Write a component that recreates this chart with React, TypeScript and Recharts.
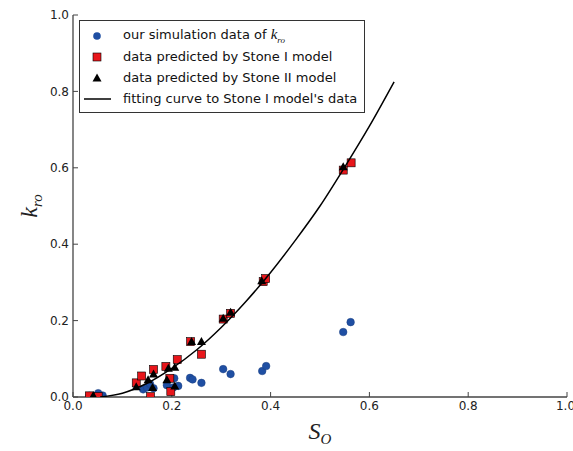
import React from 'react';
import { ScatterChart, Scatter, XAxis, YAxis, Legend, Label } from 'recharts';

// our simulation data of k_ro
const simX = [0.033, 0.051, 0.06, 0.142, 0.15, 0.156, 0.163, 0.19, 0.203, 0.205, 0.213, 0.237, 0.242, 0.26, 0.304, 0.319, 0.383, 0.391, 0.547, 0.562];
const simY = [0.003, 0.01, 0.004, 0.02, 0.025, 0.034, 0.023, 0.031, 0.025, 0.049, 0.029, 0.05, 0.046, 0.037, 0.073, 0.06, 0.068, 0.081, 0.17, 0.196];

// data predicted by Stone I model
const stone1X = [0.033, 0.051, 0.128, 0.139, 0.157, 0.163, 0.188, 0.196, 0.198, 0.211, 0.238, 0.26, 0.304, 0.319, 0.385, 0.39, 0.547, 0.563];
const stone1Y = [0.003, 0.001, 0.037, 0.055, 0.001, 0.072, 0.08, 0.049, 0.014, 0.098, 0.145, 0.112, 0.204, 0.219, 0.302, 0.31, 0.594, 0.613];

// data predicted by Stone II model
const stone2X = [0.041, 0.128, 0.152, 0.161, 0.163, 0.19, 0.193, 0.206, 0.206, 0.24, 0.26, 0.304, 0.319, 0.382, 0.547];
const stone2Y = [0.004, 0.027, 0.045, 0.025, 0.06, 0.045, 0.075, 0.078, 0.029, 0.145, 0.145, 0.206, 0.222, 0.304, 0.603];

// fitting curve to Stone I model's data
const fitX = [0.055, 0.1, 0.15, 0.2, 0.25, 0.3, 0.35, 0.4, 0.45, 0.5, 0.55, 0.6, 0.65];
const fitY = [0, 0.01, 0.036, 0.075, 0.123, 0.182, 0.25, 0.326, 0.41, 0.5, 0.602, 0.709, 0.825];

const ticks = [0, 0.2, 0.4, 0.6, 0.8, 1.0];

const zip = (xs: number[], ys: number[]) => xs.map((x, i) => ({ x, y: ys[i] }));

const simData = zip(simX, simY);
const stone1Data = zip(stone1X, stone1Y);
const stone2Data = zip(stone2X, stone2Y);
const fitData = zip(fitX, fitY);

const BLUE = '#1f4fa3';
const RED = '#e8161b';

const Circle = (p: any) => <circle cx={p.cx} cy={p.cy} r={3.8} fill={BLUE} stroke="#1a3f80" strokeWidth={0.5} />;
const Square = (p: any) => <rect x={p.cx - 4} y={p.cy - 4} width={8} height={8} fill={RED} stroke="#000" strokeWidth={0.6} />;
const Triangle = (p: any) => (
  <polygon points={`${p.cx},${p.cy - 4.5} ${p.cx - 4.5},${p.cy + 3.5} ${p.cx + 4.5},${p.cy + 3.5}`} fill="#000" />
);
const NoShape = () => null;

const tickStyle = { fontFamily: 'DejaVu Sans', fontSize: 12, fill: '#222' };
const fmt = (v: number) => v.toFixed(1);
const blank = () => '';
const axisColor = '#444';

const LegendBox = () => (
  <div
    style={{
      border: '1px solid #333',
      background: '#fff',
      fontFamily: 'DejaVu Sans',
      fontSize: 13,
      color: '#111',
      padding: '4px 0',
      boxSizing: 'border-box',
      width: 286,
      height: 93,
    }}
  >
    {[
      { m: <circle cx={13} cy={7} r={3.8} fill={BLUE} />, t: <>our simulation data of <i style={{ fontFamily: 'Liberation Serif', fontSize: 15 }}>k</i><sub style={{ fontFamily: 'Liberation Serif', fontStyle: 'italic', fontSize: 9 }}>ro</sub></> },
      { m: <rect x={9} y={3} width={8} height={8} fill={RED} stroke="#000" strokeWidth={0.6} />, t: 'data predicted by Stone I model' },
      { m: <polygon points="13,2.5 8.5,10.5 17.5,10.5" fill="#000" />, t: 'data predicted by Stone II model' },
      { m: <line x1={0} x2={27} y1={7} y2={7} stroke="#000" strokeWidth={1.5} />, t: "fitting curve to Stone I model's data" },
    ].map((r, i) => (
      <div key={i} style={{ display: 'flex', alignItems: 'center', height: 21 }}>
        <svg width={30} height={14} style={{ marginLeft: 4, marginRight: 9 }}>{r.m}</svg>
        <span style={{ whiteSpace: 'nowrap' }}>{r.t}</span>
      </div>
    ))}
  </div>
);

const YLabel = (props: any) => {
  const vb = props.viewBox;
  const cx = vb.x + 14;
  const cy = vb.y + vb.height / 2;
  return (
    <text x={cx} y={cy} transform={`rotate(-90, ${cx}, ${cy})`} textAnchor="middle" fontFamily="Liberation Serif" fontStyle="italic" fill="#222">
      <tspan fontSize={24}>k</tspan>
      <tspan fontSize={15} dy={5}>ro</tspan>
    </text>
  );
};

const XLabel = (props: any) => {
  const vb = props.viewBox;
  const cx = vb.x + vb.width / 2;
  const cy = vb.y + 42;
  return (
    <text x={cx} y={cy} textAnchor="middle" fontFamily="Liberation Serif" fontStyle="italic" fill="#222">
      <tspan fontSize={24}>S</tspan>
      <tspan fontSize={15} dy={5}>O</tspan>
    </text>
  );
};

export default function App() {
  return (
    <div style={{ position: 'absolute', left: 0, top: 0, width: 573, height: 451, background: '#fff' }}>
      <ScatterChart width={573} height={451} margin={{ top: 15, right: 6, bottom: 24, left: 23 }}>
        <XAxis
          type="number"
          dataKey="x"
          domain={[0, 1]}
          ticks={ticks}
          tickFormatter={fmt}
          tick={tickStyle}
          tickSize={-5}
          tickMargin={9}
          height={30}
          allowDataOverflow
          stroke={axisColor}
          axisLine={{ stroke: axisColor, strokeWidth: 1.3 }}
          tickLine={{ stroke: axisColor }}
        >
          <Label content={XLabel} />
        </XAxis>
        <XAxis
          xAxisId="top"
          type="number"
          dataKey="x"
          orientation="top"
          mirror
          domain={[0, 1]}
          ticks={ticks}
          tickFormatter={blank}
          tickSize={5}
          height={0}
          axisLine={{ stroke: axisColor, strokeWidth: 1.3 }}
          tickLine={{ stroke: axisColor }}
        />
        <YAxis
          type="number"
          dataKey="y"
          domain={[0, 1]}
          ticks={ticks}
          tickFormatter={fmt}
          tick={tickStyle}
          tickSize={-5}
          tickMargin={9}
          width={50}
          allowDataOverflow
          axisLine={{ stroke: axisColor, strokeWidth: 1.3 }}
          tickLine={{ stroke: axisColor }}
        >
          <Label content={YLabel} />
        </YAxis>
        <YAxis
          yAxisId="right"
          type="number"
          dataKey="y"
          orientation="right"
          mirror
          domain={[0, 1]}
          ticks={ticks}
          tickFormatter={blank}
          tickSize={5}
          width={0}
          axisLine={{ stroke: axisColor, strokeWidth: 1.3 }}
          tickLine={{ stroke: axisColor }}
        />
        <Legend
          layout="vertical"
          align="center"
          verticalAlign="middle"
          content={LegendBox}
          wrapperStyle={{ left: 79, top: 20, width: 286, height: 93 }}
        />
        <Scatter data={simData} shape={Circle} isAnimationActive={false} />
        <Scatter data={stone1Data} shape={Square} isAnimationActive={false} />
        <Scatter data={stone2Data} shape={Triangle} isAnimationActive={false} />
        <Scatter
          data={fitData}
          shape={NoShape}
          line={{ stroke: '#000', strokeWidth: 1.5 }}
          lineJointType="monotoneX"
          isAnimationActive={false}
        />
      </ScatterChart>
    </div>
  );
}
